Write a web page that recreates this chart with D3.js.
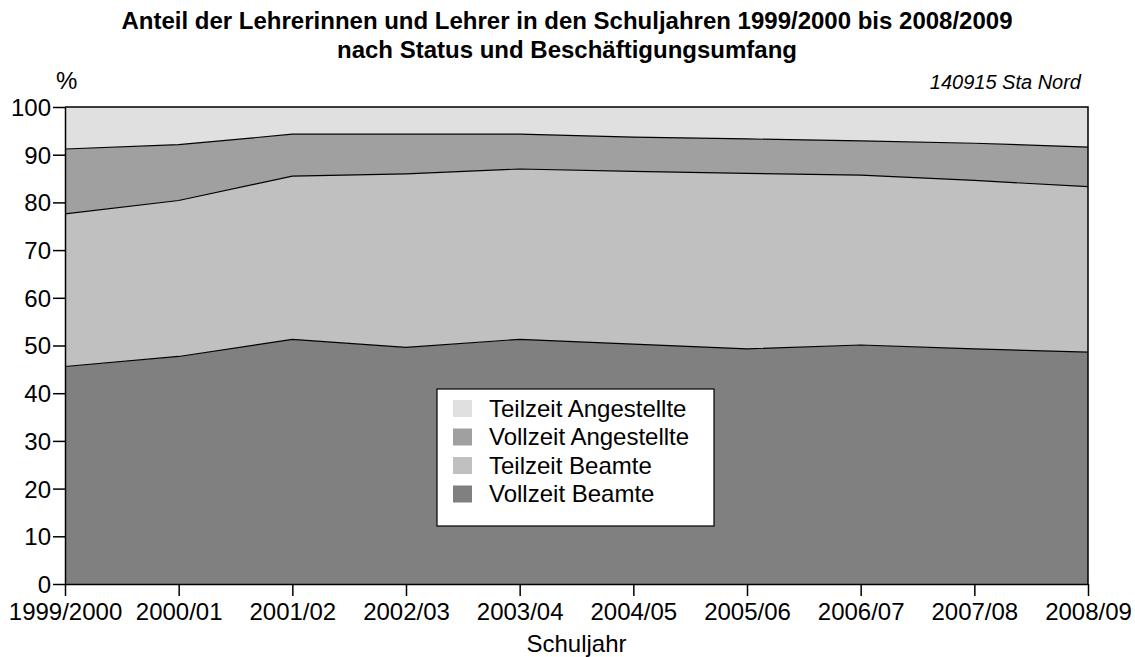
<!DOCTYPE html>
<html>
<head>
<meta charset="utf-8">
<script src="https://cdn.jsdelivr.net/npm/d3@7"></script>
<style>
  body { margin: 0; background: #fff; }
  text { font-family: "Liberation Sans", Arial, sans-serif; fill: #000; }
</style>
</head>
<body>
<div id="chart"></div>
<script>
// Data
let years = ['1999/2000', '2000/01', '2001/02', '2002/03', '2003/04', '2004/05', '2005/06', '2006/07', '2007/08', '2008/09'];
let vollzeitBeamte      = [45.6, 47.7, 51.3, 49.6, 51.3, 50.3, 49.3, 50.1, 49.3, 48.6];
let teilzeitBeamte      = [32.0, 32.7, 34.2, 36.4, 35.7, 36.2, 36.8, 35.6, 35.3, 34.7];
let vollzeitAngestellte = [13.6, 11.7, 8.8, 8.3, 7.3, 7.2, 7.2, 7.2, 7.8, 8.3];
let teilzeitAngestellte = [8.8, 7.9, 5.7, 5.7, 5.7, 6.3, 6.7, 7.1, 7.6, 8.4];
let yTicks = [0, 10, 20, 30, 40, 50, 60, 70, 80, 90, 100];

let keys = ['Vollzeit Beamte', 'Teilzeit Beamte', 'Vollzeit Angestellte', 'Teilzeit Angestellte'];
let colors = {
  'Vollzeit Beamte': '#808080',
  'Teilzeit Beamte': '#c0c0c0',
  'Vollzeit Angestellte': '#a0a0a0',
  'Teilzeit Angestellte': '#e0e0e0'
};

let rows = years.map((y, i) => ({
  year: y,
  'Vollzeit Beamte': vollzeitBeamte[i],
  'Teilzeit Beamte': teilzeitBeamte[i],
  'Vollzeit Angestellte': vollzeitAngestellte[i],
  'Teilzeit Angestellte': teilzeitAngestellte[i]
}));

const W = 1135, H = 657;
const margin = {top: 107, right: 47, bottom: 73, left: 65};
let w = W - margin.left - margin.right;
let h = H - margin.top - margin.bottom;

let svg = d3.select('#chart').append('svg')
  .attr('width', W)
  .attr('height', H);

let g = svg.append('g')
  .attr('transform', `translate(${margin.left},${margin.top})`);

let xScale = d3.scalePoint().domain(years).range([0, w]);
let yScale = d3.scaleLinear().domain([0, 100]).range([h, 0]);

let series = d3.stack().keys(keys)(rows);

let area = d3.area()
  .x(d => xScale(d.data.year))
  .y0(d => yScale(d[0]))
  .y1(d => yScale(d[1]));

let line = d3.line()
  .x(d => xScale(d.data.year))
  .y(d => yScale(d[1]));

g.selectAll('path.layer')
  .data(series)
  .enter().append('path')
    .attr('class', 'layer')
    .attr('d', area)
    .attr('fill', d => colors[d.key]);

// boundary lines between layers
g.selectAll('path.edge')
  .data(series.slice(0, 3))
  .enter().append('path')
    .attr('class', 'edge')
    .attr('d', line)
    .attr('fill', 'none')
    .attr('stroke', '#000')
    .attr('stroke-width', 1.2);

// frame top + right
g.append('path')
  .attr('d', `M0,0H${w}V${h}`)
  .attr('fill', 'none')
  .attr('stroke', '#000')
  .attr('stroke-width', 1.5);

// axes
let xAxis = g.append('g')
  .attr('transform', `translate(0,${h})`)
  .call(d3.axisBottom(xScale).tickSize(12).tickPadding(7).tickSizeOuter(0));

let yAxis = g.append('g')
  .call(d3.axisLeft(yScale).tickValues(yTicks).tickSize(12).tickPadding(2).tickSizeOuter(0));

[xAxis, yAxis].forEach(a => {
  a.select('.domain').attr('stroke', '#000').attr('stroke-width', 1.5);
  a.selectAll('.tick line').attr('stroke', '#000').attr('stroke-width', 1.5);
  a.selectAll('.tick text')
    .style('font-family', '"Liberation Sans", Arial, sans-serif')
    .style('font-size', '24px')
    .attr('fill', '#000');
});
yAxis.selectAll('.tick text').attr('dy', '0.35em');

// legend
let legend = g.append('g')
  .attr('transform', `translate(${437 - margin.left},${389 - margin.top})`);
legend.append('rect')
  .attr('width', 277).attr('height', 137)
  .attr('fill', '#fff').attr('stroke', '#000').attr('stroke-width', 1.2);

let legendKeys = keys.slice().reverse();
let li = legend.selectAll('g.item')
  .data(legendKeys)
  .enter().append('g')
    .attr('class', 'item')
    .attr('transform', (d, i) => `translate(0,${19.5 + i * 28.5})`);
li.append('rect')
  .attr('x', 16).attr('y', -8.5)
  .attr('width', 19).attr('height', 17)
  .attr('fill', d => colors[d]);
li.append('text')
  .attr('x', 52).attr('dy', '0.35em')
  .style('font-size', '24px')
  .text(d => d);

// titles
svg.append('text')
  .attr('x', 567).attr('y', 29)
  .attr('text-anchor', 'middle')
  .style('font-size', '24px').style('font-weight', 'bold')
  .text('Anteil der Lehrerinnen und Lehrer in den Schuljahren 1999/2000 bis 2008/2009');
svg.append('text')
  .attr('x', 567).attr('y', 58)
  .attr('text-anchor', 'middle')
  .style('font-size', '24px').style('font-weight', 'bold')
  .text('nach Status und Beschäftigungsumfang');

svg.append('text')
  .attr('x', 56).attr('y', 89)
  .style('font-size', '24px')
  .text('%');

svg.append('text')
  .attr('x', 1081).attr('y', 89)
  .attr('text-anchor', 'end')
  .style('font-size', '20px').style('font-style', 'italic')
  .text('140915 Sta Nord');

svg.append('text')
  .attr('x', margin.left + w / 2).attr('y', 652)
  .attr('text-anchor', 'middle')
  .style('font-size', '24px')
  .text('Schuljahr');
</script>
</body>
</html>
